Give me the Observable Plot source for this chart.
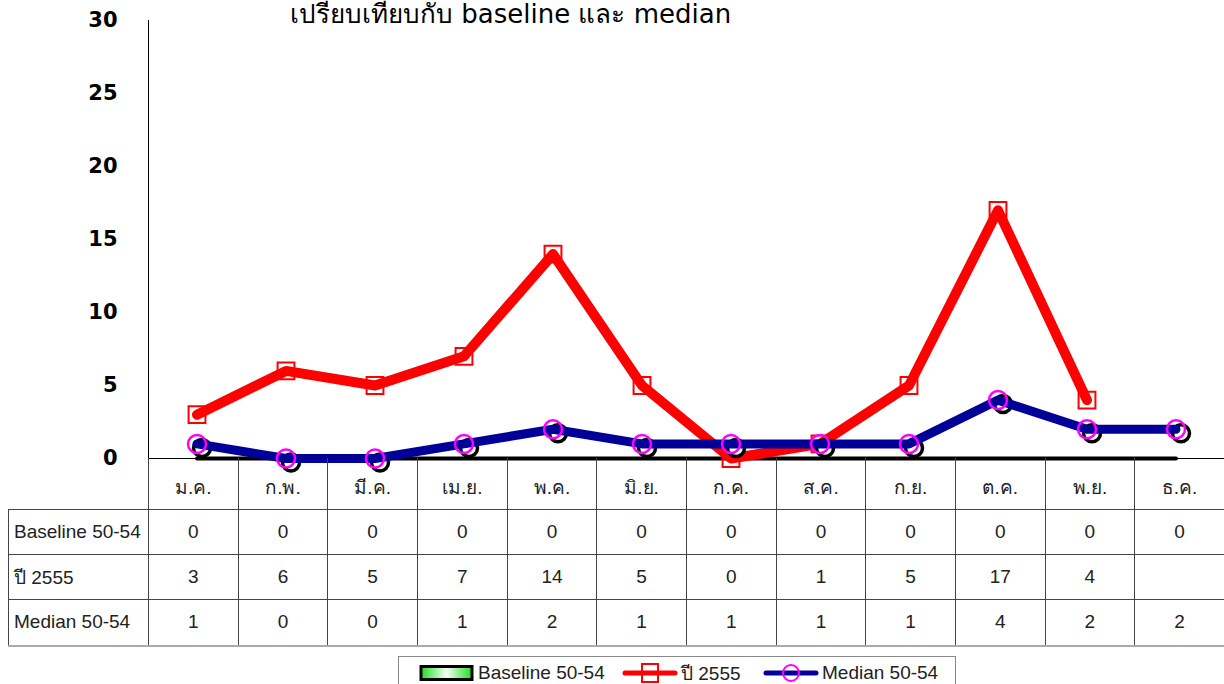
<!DOCTYPE html>
<html>
<head>
<meta charset="utf-8">
<script src="https://cdn.jsdelivr.net/npm/d3@7"></script>
<script src="https://cdn.jsdelivr.net/npm/@observablehq/plot@0.6"></script>
<style>
  html, body { margin: 0; padding: 0; background: #fff; }
  #wrap { position: relative; width: 1224px; height: 684px; overflow: hidden; background: #fff;
          font-family: "Liberation Sans", "DejaVu Sans", sans-serif; color: #222; }
  #title { position: absolute; left: 290px; top: -1px; font-size: 26px; line-height: 30px; white-space: nowrap; color: #000;
           font-family: "DejaVu Sans", sans-serif; }
  #chart { position: absolute; left: 0; top: 0; }
  #tbl { position: absolute; left: 8px; top: 458px; border-collapse: collapse; table-layout: fixed; width: 1216px; font-size: 19px; }
  #tbl td { padding: 0; text-align: center; border: 1px solid #444; overflow: hidden; white-space: nowrap; box-sizing: border-box; }
  #tbl tr.head td { height: 51px; border-top: none; padding-top: 8px; }
  #tbl tr.head td.corner { border: none; border-right: 1px solid #444; }
  #tbl tr.body td { height: 45px; }
  #tbl tr.body td.lab { text-align: left; padding-left: 5px; }
  #tbl tr.last td { border-bottom: 2px solid #aaa; height: 47px; }
  #legend { position: absolute; left: 398px; top: 656px; width: 556px; height: 40px; border: 1px solid #888; background: #fff;
            font-size: 19px; }
  .item { position: absolute; top: 4px; height: 24px; display: flex; align-items: center; }
</style>
</head>
<body>
<div id="wrap">
  <div id="chart"></div>
  <div id="title"></div>
  <table id="tbl"></table>
  <div id="legend"></div>
</div>
<script>
// ---- data ----
const months = ["ม.ค.","ก.พ.","มี.ค.","เม.ย.","พ.ค.","มิ.ย.","ก.ค.","ส.ค.","ก.ย.","ต.ค.","พ.ย.","ธ.ค."];
const seriesNames = ["Baseline 50-54", "ปี 2555", "Median 50-54"];
const baselineVals = [0,0,0,0,0,0,0,0,0,0,0,0];
const year2555Vals = [3,6,5,7,14,5,0,1,5,17,4,null];
const medianVals = [1,0,0,1,2,1,1,1,1,4,2,2];
const yTicks = [0,5,10,15,20,25,30];
const titleText = "เปรียบเทียบกับ baseline และ median";

const toRows = vals => months.map((m, i) => ({month: m, v: vals[i]}));
const baseData = toRows(baselineVals);
const redData = toRows(year2555Vals).filter(d => d.v != null);
const medData = toRows(medianVals);

document.getElementById("title").textContent = titleText;

const chart = Plot.plot({
  width: 1224,
  height: 460,
  marginLeft: 148,
  marginRight: 0,
  marginTop: 20,
  marginBottom: 2,
  x: {type: "band", domain: months, padding: 0, axis: null},
  y: {domain: [0, 30], axis: null},
  style: {background: "transparent", overflow: "visible"},
  marks: [
    Plot.axisY({ticks: yTicks, tickSize: 10, tickPadding: 21, label: null, fontSize: 21, fontWeight: "bold",
                fontFamily: "DejaVu Sans", fill: "#000", stroke: null}),
    Plot.frame({anchor: "left", stroke: "#000"}),
    Plot.ruleY([0], {stroke: "#000", strokeWidth: 1}),
    Plot.lineY(baseData, {x: "month", y: "v", stroke: "#000", strokeWidth: 4}),
    Plot.lineY(redData, {x: "month", y: "v", stroke: "#ff0000", strokeWidth: 10, strokeLinejoin: "round", strokeLinecap: "round"}),
    Plot.dot(redData, {x: "month", y: "v", symbol: "square", r: 9.5, stroke: "#ff0000", strokeWidth: 2, fill: "none"}),
    Plot.dot(medData, {x: "month", y: "v", r: 8.5, stroke: "#000", strokeWidth: 3.5, fill: "#fff", dx: 5, dy: 4}),
    Plot.lineY(medData, {x: "month", y: "v", stroke: "#000099", strokeWidth: 9, strokeLinejoin: "round", strokeLinecap: "round"}),
    Plot.dot(medData, {x: "month", y: "v", r: 9, stroke: "#ff00ff", strokeWidth: 2.5, fill: "none"})
  ]
});
document.getElementById("chart").appendChild(chart);

// ---- table ----
const tbl = d3.select("#tbl");
const cg = tbl.append("colgroup");
cg.append("col").style("width", "140px");
months.forEach(() => cg.append("col").style("width", (1076 / 12) + "px"));
const head = tbl.append("tr").attr("class", "head");
head.append("td").attr("class", "corner");
months.forEach(m => head.append("td").text(m));
const rowsVals = [baselineVals, year2555Vals, medianVals];
seriesNames.forEach((name, k) => {
  const tr = tbl.append("tr").attr("class", "body" + (k === seriesNames.length - 1 ? " last" : ""));
  tr.append("td").attr("class", "lab").text(name);
  rowsVals[k].forEach(v => tr.append("td").text(v == null ? "" : v));
});

// ---- legend ----
const legend = d3.select("#legend");
const items = [
  {name: seriesNames[0], left: 20, kind: "area"},
  {name: seriesNames[1], left: 223, kind: "square"},
  {name: seriesNames[2], left: 364, kind: "circle"}
];
items.forEach(it => {
  const div = legend.append("div").attr("class", "item").style("left", it.left + "px");
  const svg = div.append("svg").attr("width", 56).attr("height", 24);
  if (it.kind === "area") {
    const g = svg.append("defs").append("linearGradient").attr("id", "gg");
    g.append("stop").attr("offset", "0%").attr("stop-color", "#22dd22");
    g.append("stop").attr("offset", "50%").attr("stop-color", "#f4fff4");
    g.append("stop").attr("offset", "100%").attr("stop-color", "#22dd22");
    svg.append("rect").attr("x", 2).attr("y", 5.5).attr("width", 51).attr("height", 13)
      .attr("fill", "url(#gg)").attr("stroke", "#000").attr("stroke-width", 3);
  } else if (it.kind === "square") {
    svg.append("line").attr("x1", 3).attr("x2", 53).attr("y1", 12).attr("y2", 12)
      .attr("stroke", "#ff0000").attr("stroke-width", 5).attr("stroke-linecap", "round");
    svg.append("rect").attr("x", 20).attr("y", 3).attr("width", 16).attr("height", 18)
      .attr("fill", "none").attr("stroke", "#ff0000").attr("stroke-width", 2);
  } else {
    svg.append("line").attr("x1", 3).attr("x2", 53).attr("y1", 12).attr("y2", 12)
      .attr("stroke", "#000099").attr("stroke-width", 5).attr("stroke-linecap", "round");
    svg.append("circle").attr("cx", 28).attr("cy", 12).attr("r", 8)
      .attr("fill", "none").attr("stroke", "#ff00ff").attr("stroke-width", 2);
  }
  div.append("span").style("margin-left", "3px").text(it.name);
});
</script>
</body>
</html>
